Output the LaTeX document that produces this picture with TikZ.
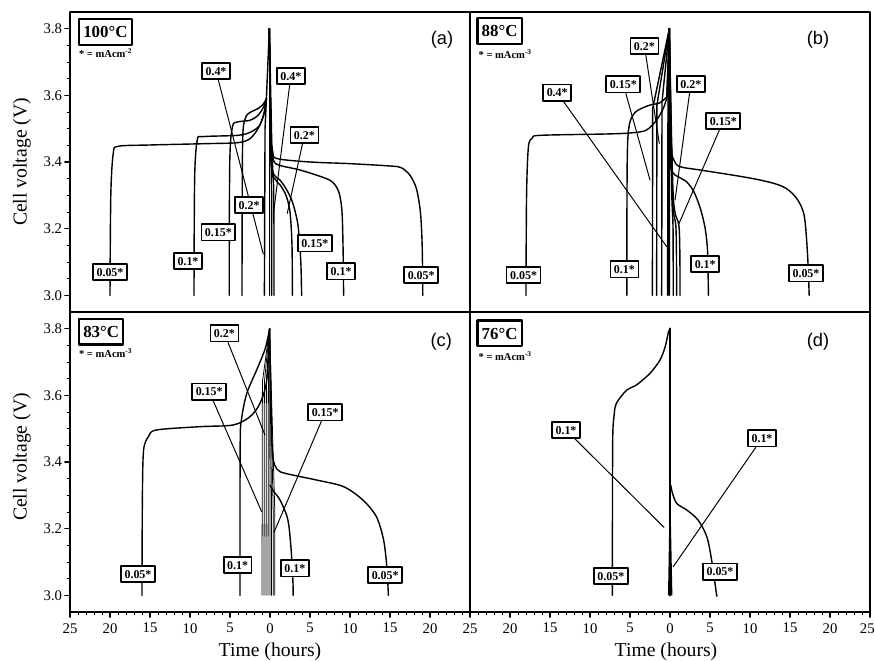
\documentclass[tikz,border=0pt]{standalone}
\usepackage{fontspec}
\setmainfont{Liberation Serif}
\newfontfamily\tagfont{Liberation Sans}
\begin{document}
\begin{tikzpicture}[line join=round, line cap=round,
    curve/.style={line width=1pt},
    thin curve/.style={line width=0.55pt},
    lead/.style={line width=0.7pt},
    cur/.style={draw, line width=1.2pt, fill=white, inner xsep=2.5pt, inner ysep=3pt,
      text height=5.8pt, text depth=0pt, font=\fontsize{8.5}{9}\selectfont\bfseries},
    temp/.style={draw, line width=1.5pt, fill=white, anchor=west, inner xsep=3pt, inner ysep=5pt,
      text height=8.2pt, text depth=0pt, font=\fontsize{12}{13}\selectfont\bfseries},
    unit/.style={anchor=west, inner sep=0pt, font=\fontsize{7.5}{8}\selectfont\bfseries},
    tag/.style={font=\fontsize{13}{14}\selectfont\tagfont},
    panel/.style={x=0.2cm, y=8.3333cm}]
\useasboundingbox (0,0) rectangle (21.875,16.525);

% frames
\draw[line width=1.2pt] (1.75,1.225) rectangle (21.75,16.225);
\draw[line width=1.2pt] (11.75,1.225) -- (11.75,16.225) (1.75,8.725) -- (21.75,8.725);

% time axis
\foreach \i in {0,...,100}
  \draw[line width=0.6pt] (1.75+0.2*\i,1.225) -- ++(0,-0.07);
\foreach \i in {0,...,19}{
  \pgfmathtruncatemacro\lab{abs(25-5*mod(\i,10))}
  \draw[line width=0.8pt] (1.75+\i,1.225) -- ++(0,-0.13);
  \node[font=\fontsize{10.5}{12}\selectfont] (tx\i) at (1.75+\i,0.82) {\lab};
}
\draw[line width=0.8pt] (21.75,1.225) -- ++(0,-0.13);
\node[font=\fontsize{10.5}{12}\selectfont, anchor=east, inner xsep=0pt] (tx20) at (21.875,0.82) {25};
% voltage axis
\foreach \s in {1.225,8.725}{
  \foreach \k in {1,...,17}
    \draw[line width=0.6pt] (1.75,\s+0.41667*\k) -- ++(-0.07,0);
  \foreach \v/\k in {3.0/1,3.2/5,3.4/9,3.6/13,3.8/17}
    \draw[line width=0.8pt] (1.75,\s+0.41667*\k) -- ++(-0.13,0)
      node[left, inner sep=1.5pt, font=\fontsize{10.5}{12}\selectfont] {\v};
}
\node[rotate=90, font=\fontsize{14}{16}\selectfont] (yA) at (0.55,12.475) {Cell voltage (V)};
\node[rotate=90, font=\fontsize{14}{16}\selectfont] (yC) at (0.55,5.1) {Cell voltage (V)};
\node[font=\fontsize{14}{16}\selectfont] (xC) at (6.75,0.24) {Time (hours)};
\node[font=\fontsize{14}{16}\selectfont] (xD) at (16.65,0.24) {Time (hours)};

% (a) 100 C
\begin{scope}[shift={(6.75,-15.8583)}, panel]
  \coordinate (tipA) at (-0.08,3.8);
  \draw[curve] plot[smooth] coordinates {(-20,3.0) (-19.9,3.3) (-19.6,3.425) (-19,3.447) (-15,3.451) (-8,3.455) (-4,3.458) (-2.5,3.47) (-1.5,3.5) (-0.8,3.54) (-0.45,3.59)} -- (tipA);
  \draw[curve] plot[smooth] coordinates {(-9.5,3.0) (-9.42,3.35) (-9.1,3.465) (-8.4,3.476) (-4,3.48) (-2.4,3.49) (-1.3,3.51) (-0.7,3.55) (-0.45,3.59)};
  \draw[curve] plot[smooth] coordinates {(-5.1,3.0) (-5.03,3.4) (-4.7,3.505) (-4.1,3.52) (-2.5,3.525) (-1.5,3.54) (-0.8,3.565) (-0.45,3.59)};
  \draw[curve] plot[smooth] coordinates {(-3.5,3.0) (-3.43,3.45) (-3.1,3.53) (-2.4,3.55) (-1.5,3.56) (-0.8,3.575) (-0.45,3.59)};
  \draw[curve] (-0.7,3.0) -- (-0.62,3.5) -- (-0.45,3.59);
  \draw[curve] (tipA) -- (-0.08,3.0);
  \draw[curve] plot[smooth] coordinates {(-0.08,3.8) (0.1,3.5) (0.35,3.43) (0.9,3.41) (5,3.40) (10,3.395) (15,3.388) (16.4,3.383) (17.5,3.36) (18.3,3.32) (18.8,3.25) (19.02,3.15) (19.1,3.0)};
  \draw[curve] plot[smooth] coordinates {(-0.08,3.8) (0.12,3.47) (0.45,3.405) (1.2,3.39) (3.75,3.376) (6.5,3.355) (7.8,3.34) (8.6,3.31) (9.0,3.25) (9.15,3.12) (9.2,3.0)};
  \draw[curve] plot[smooth] coordinates {(-0.08,3.8) (0.15,3.42) (0.5,3.362) (1.2,3.347) (2.0,3.32) (2.8,3.28) (3.5,3.21) (3.85,3.1) (3.95,3.0)};
  \draw[curve] plot[smooth] coordinates {(-0.08,3.8) (0.15,3.4) (0.6,3.35) (1.3,3.33) (2.0,3.3) (2.5,3.25) (2.75,3.15) (2.8,3.0)};
  \draw[curve] (tipA) -- (0.25,3.42) -- (0.45,3.33) -- (0.5,3.2) -- (0.5,3.0);
  \draw[curve] (tipA) -- (0.2,3.3) -- (0.2,3.0);
  \node[temp] (tA) at (-24,3.79) {100°C};
  \node[unit] (uA) at (-23.9,3.727) {* = mAcm\textsuperscript{-2}};
  \node[tag] (gA) at (21.5,3.766) {(a)};
  \coordinate (eA1) at (-0.84,3.124);
  \coordinate (eA2) at (0.41,3.241);
  \coordinate (eA3) at (2.16,3.246);
  \node[cur] (a04l) at (-6.75,3.673) {0.4*};
  \node[cur] (a04r) at (2.6,3.658) {0.4*};
  \node[cur] (a02r) at (4.3,3.481) {0.2*};
  \draw[lead] (a04l) -- (eA1);
  \draw[lead] (a04r) -- (eA2);
  \draw[lead] (a02r) -- (eA3);
  \node[cur] (a02l) at (-2.6,3.271) {0.2*};
  \node[cur] (a015l) at (-6.46,3.189) {0.15*};
  \node[cur] (a01l) at (-10.25,3.103) {0.1*};
  \node[cur] (a005l) at (-20,3.07) {0.05*};
  \node[cur] (a015r) at (5.6,3.156) {0.15*};
  \node[cur] (a01r) at (8.9,3.072) {0.1*};
  \node[cur] (a005r) at (18.9,3.061) {0.05*};
\end{scope}

% (b) 88 C
\begin{scope}[shift={(16.75,-15.8583)}, panel]
  \coordinate (tipB) at (-0.08,3.8);
  \draw[curve] plot[smooth] coordinates {(-18,3.0) (-17.93,3.3) (-17.7,3.445) (-17.2,3.472) (-16.2,3.48) (-8,3.484) (-5,3.487) (-3,3.495) (-1.7,3.525) (-0.85,3.56) (-0.4,3.592)} -- (tipB);
  \draw[curve] plot[smooth] coordinates {(-5.4,3.0) (-5.35,3.4) (-5.1,3.51) (-4.3,3.55) (-2.6,3.57) (-1.3,3.577) (-0.4,3.595)} -- (tipB);
  \draw[curve] (-2.2,3.0) -- (-2.17,3.56) -- (tipB);
  \draw[curve] (-1.67,3.0) -- (-1.64,3.57) -- (tipB);
  \draw[curve] (-1.04,3.0) -- (-1.0,3.58) -- (tipB);
  \draw[curve] (-0.3,3.0) -- (-0.25,3.6) -- (tipB) -- (-0.08,3.0);
  \draw[curve] plot[smooth] coordinates {(-0.08,3.8) (0.15,3.46) (0.5,3.405) (1.25,3.386) (3.75,3.376) (8,3.36) (11.25,3.346) (13.5,3.332) (14.8,3.316) (16.0,3.285) (16.8,3.236) (17.2,3.12) (17.4,3.0)};
  \draw[curve] plot[smooth] coordinates {(-0.08,3.8) (0.05,3.42) (0.3,3.37) (1.0,3.356) (2.1,3.34) (3.0,3.31) (3.8,3.26) (4.4,3.2) (4.7,3.13) (4.8,3.0)};
  \draw[curve] plot[smooth] coordinates {(-0.08,3.8) (0.2,3.33) (0.38,3.2) (0.4,3.0)};
  \draw[curve] plot[smooth] coordinates {(-0.08,3.8) (0.3,3.3) (0.75,3.2) (0.83,3.0)};
  \draw[curve] plot[smooth] coordinates {(-0.08,3.8) (0.4,3.3) (1.15,3.2) (1.25,3.0)};
  \node[temp] (tB) at (-24.2,3.793) {88°C};
  \node[unit] (uB) at (-23.96,3.723) {* = mAcm\textsuperscript{-3}};
  \node[tag] (gB) at (18.5,3.768) {(b)};
  \coordinate (eB1) at (-1.34,3.456);
  \coordinate (eB2) at (-2.5,3.346);
  \coordinate (eB3) at (-0.41,3.146);
  \coordinate (eB4) at (0.63,3.286);
  \coordinate (eB5) at (1.1,3.214);
  \node[cur] (b02t) at (-3.2,3.748) {0.2*};
  \node[cur] (b015l) at (-5.84,3.633) {0.15*};
  \node[cur] (b04l) at (-14.1,3.608) {0.4*};
  \node[cur] (b02r) at (2.6,3.634) {0.2*};
  \node[cur] (b015r) at (6.66,3.523) {0.15*};
  \draw[lead] (b02t) -- (eB1);
  \draw[lead] (b015l) -- (eB2);
  \draw[lead] (b04l) -- (eB3);
  \draw[lead] (b02r) -- (eB4);
  \draw[lead] (b015r) -- (eB5);
  \node[cur] (b005l) at (-18.3,3.061) {0.05*};
  \node[cur] (b01l) at (-5.7,3.078) {0.1*};
  \node[cur] (b01r) at (4.4,3.094) {0.1*};
  \node[cur] (b005r) at (17,3.066) {0.05*};
\end{scope}

% (c) 83 C
\begin{scope}[shift={(6.75,-23.3583)}, panel]
  \coordinate (tipC) at (-0.05,3.8);
  \draw[curve] plot[smooth] coordinates {(-16,3.0) (-15.95,3.3) (-15.8,3.436) (-15.2,3.476) (-14.2,3.496) (-8.75,3.506) (-4.6,3.511) (-2.5,3.536) (-1.25,3.576) (-0.4,3.646) (-0.05,3.8)};
  \draw[curve] plot[smooth] coordinates {(-3.75,3.0) (-3.73,3.45) (-3.55,3.53) (-2.9,3.606) (-1.67,3.676) (-0.6,3.74) (-0.05,3.8)};
  \foreach \h in {-1.0,-0.75,-0.5,-0.25}
    \draw[thin curve] (\h,3.0) -- ({\h+0.05},3.64) -- (tipC);
  \foreach \h in {0,0.2,0.4,0.6}
    \draw[thin curve] (tipC) -- (\h,3.25) -- (\h,3.0);
  \draw[curve] plot[smooth] coordinates {(-0.05,3.8) (0.15,3.55) (0.3,3.43) (0.6,3.39) (1.25,3.371) (3,3.36) (5.8,3.346) (9.2,3.326) (11.6,3.286) (13.3,3.236) (14.2,3.166) (14.6,3.086) (14.8,3.0)};
  \draw[curve] plot[smooth] coordinates {(0.0,3.33) (0.5,3.31) (1.25,3.286) (2.2,3.23) (2.6,3.15) (2.85,3.05) (2.9,3.0)};
  \node[temp] (tC) at (-24,3.791) {83°C};
  \node[unit] (uC) at (-23.9,3.726) {* = mAcm\textsuperscript{-3}};
  \node[tag] (gC) at (21.4,3.761) {(c)};
  \coordinate (eC1) at (-0.63,3.481);
  \coordinate (eC2) at (-1.04,3.251);
  \coordinate (eC3) at (0.5,3.189);
  \node[cur] (c02l) at (-5.7,3.786) {0.2*};
  \node[cur] (c015l) at (-7.6,3.611) {0.15*};
  \node[cur] (c015r) at (6.9,3.549) {0.15*};
  \draw[lead] (c02l) -- (eC1);
  \draw[lead] (c015l) -- (eC2);
  \draw[lead] (c015r) -- (eC3);
  \node[cur] (c005l) at (-16.5,3.064) {0.05*};
  \node[cur] (c01l) at (-4.04,3.091) {0.1*};
  \node[cur] (c01r) at (3.1,3.081) {0.1*};
  \node[cur] (c005r) at (14.4,3.061) {0.05*};
\end{scope}

% (d) 76 C
\begin{scope}[shift={(16.75,-23.3583)}, panel]
  \coordinate (tipD) at (0,3.8);
  \draw[curve] plot[smooth] coordinates {(-7.2,3.0) (-7.17,3.45) (-7.0,3.536) (-6.7,3.576) (-5.4,3.616) (-4.2,3.631) (-2.5,3.666) (-1.25,3.706) (-0.6,3.746) (-0.2,3.79)} -- (tipD);
  \draw[line width=1.8pt] (tipD) -- (0,3.0);
  \fill (-0.25,3.0) -- (0,3.35) -- (0.3,3.0) -- cycle;
  \draw[curve] plot[smooth] coordinates {(0.1,3.33) (0.25,3.311) (0.83,3.276) (2.1,3.256) (3.5,3.226) (4.6,3.176) (5.2,3.106) (5.8,3.006) (5.85,3.0)};
  \node[temp] (tD) at (-24.2,3.786) {76°C};
  \node[unit] (uD) at (-23.96,3.718) {* = mAcm\textsuperscript{-3}};
  \node[tag] (gD) at (18.5,3.761) {(d)};
  \coordinate (eD1) at (-0.75,3.204);
  \coordinate (eD2) at (0.41,3.086);
  \node[cur] (d01l) at (-13,3.496) {0.1*};
  \node[cur] (d01r) at (11.5,3.471) {0.1*};
  \draw[lead] (d01l) -- (eD1);
  \draw[lead] (d01r) -- (eD2);
  \node[cur] (d005l) at (-7.4,3.058) {0.05*};
  \node[cur] (d005r) at (6.25,3.071) {0.05*};
\end{scope}
\end{tikzpicture}
\end{document}
